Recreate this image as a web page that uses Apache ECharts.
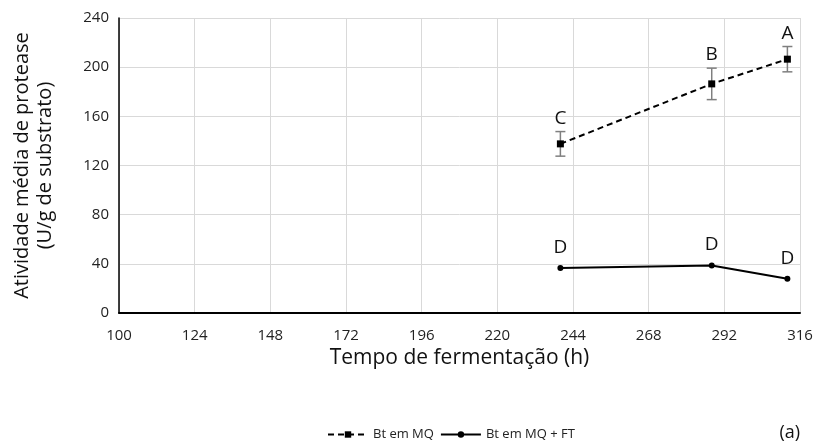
<!DOCTYPE html>
<html>
<head>
<meta charset="utf-8">
<script src="https://cdn.jsdelivr.net/npm/echarts@6/dist/echarts.min.js"></script>
<style>
html, body { margin: 0; padding: 0; background: #fff; }
#chart { width: 816px; height: 443px; }
</style>
</head>
<body>
<div id="chart"></div>
<script>
// tempo de fermentação (h)
let hours = [240, 288, 312];
// Bt em MQ
let mq = [137.6, 186.4, 206.5];
let mqErr = [10, 12.8, 10.3];
let mqLetters = ['C', 'B', 'A'];
// Bt em MQ + FT
let mqft = [36.7, 38.6, 27.8];
let mqftLetters = ['D', 'D', 'D'];

let xMin = 100, xMax = 316, xStep = 24;
let yMin = 0, yMax = 240, yStep = 40;

const FONT = 'Open Sans';

// x axis is shifted so that its min is 0 (ticks 100,124,... then come out right)
let mqData = hours.map((h, i) => ({
	value: [h - xMin, mq[i]],
	label: { formatter: mqLetters[i], distance: Math.round(mqErr[i] * 1.23) }
}));
let mqftData = hours.map((h, i) => ({
	value: [h - xMin, mqft[i]],
	label: { formatter: mqftLetters[i] }
}));
let errData = hours.map((h, i) => [h - xMin, mq[i] - mqErr[i], mq[i] + mqErr[i]]);

let myChart = echarts.init(document.getElementById('chart'));

let option = {
	animation: false,
	textStyle: { fontFamily: FONT },
	grid: { left: 119, right: 16, top: 18, bottom: 130 },
	legend: {
		left: 322,
		bottom: -3,
		itemWidth: 40,
		itemHeight: 8,
		itemGap: 6,
		textStyle: { fontFamily: FONT, fontSize: 13, color: '#222' },
		data: ['Bt em MQ', 'Bt em MQ + FT']
	},
	xAxis: {
		type: 'value',
		min: 0,
		max: xMax - xMin,
		interval: xStep,
		name: 'Tempo de fermentação (h)',
		nameLocation: 'middle',
		nameGap: 32,
		nameTextStyle: { fontFamily: FONT, fontSize: 21, color: '#111' },
		axisLine: { show: true, lineStyle: { color: '#000', width: 2 } },
		axisTick: { show: false },
		axisLabel: {
			formatter: v => v + xMin,
			margin: 15,
			fontFamily: FONT,
			fontSize: 15,
			color: '#222'
		},
		splitLine: { show: true, lineStyle: { color: '#d9d9d9', width: 1 } }
	},
	yAxis: {
		type: 'value',
		min: yMin,
		max: yMax,
		interval: yStep,
		name: 'Atividade média de protease\n(U/g de substrato)',
		nameLocation: 'middle',
		nameGap: 62,
		nameTextStyle: { fontFamily: FONT, fontSize: 20, color: '#111', lineHeight: 23 },
		axisLine: { show: true, lineStyle: { color: '#000', width: 1.5 } },
		axisTick: { show: false },
		axisLabel: { margin: 10, fontFamily: FONT, fontSize: 15, color: '#222' },
		splitLine: { show: true, lineStyle: { color: '#d9d9d9', width: 1 } }
	},
	graphic: [
		{
			type: 'text',
			right: 16,
			bottom: 1,
			style: { text: '(a)', fontFamily: FONT, fontSize: 18, fill: '#111' }
		}
	],
	series: [
		{
			name: 'Bt em MQ',
			type: 'line',
			data: mqData,
			symbol: 'rect',
			symbolSize: 7,
			itemStyle: { color: '#000' },
			lineStyle: { color: '#000', width: 2, type: [6, 4] },
			label: {
				show: true,
				position: 'top',
				fontFamily: FONT,
				fontSize: 19,
				color: '#111'
			},
			z: 3
		},
		{
			name: 'Bt em MQ + FT',
			type: 'line',
			data: mqftData,
			symbol: 'circle',
			symbolSize: 6,
			itemStyle: { color: '#000' },
			lineStyle: { color: '#000', width: 2 },
			label: {
				show: true,
				position: 'top',
				distance: 8,
				fontFamily: FONT,
				fontSize: 19,
				color: '#111'
			},
			z: 3
		},
		{
			name: 'erro',
			type: 'custom',
			data: errData,
			z: 2,
			renderItem: function(params, api) {
				let x = api.value(0);
				let lo = api.coord([x, api.value(1)]);
				let hi = api.coord([x, api.value(2)]);
				let cap = 5;
				let style = { stroke: '#7f7f7f', lineWidth: 1.5 };
				return {
					type: 'group',
					children: [
						{ type: 'line', shape: { x1: lo[0], y1: lo[1], x2: hi[0], y2: hi[1] }, style: style },
						{ type: 'line', shape: { x1: lo[0] - cap, y1: lo[1], x2: lo[0] + cap, y2: lo[1] }, style: style },
						{ type: 'line', shape: { x1: hi[0] - cap, y1: hi[1], x2: hi[0] + cap, y2: hi[1] }, style: style }
					]
				};
			}
		}
	]
};

myChart.setOption(option);
</script>
</body>
</html>
